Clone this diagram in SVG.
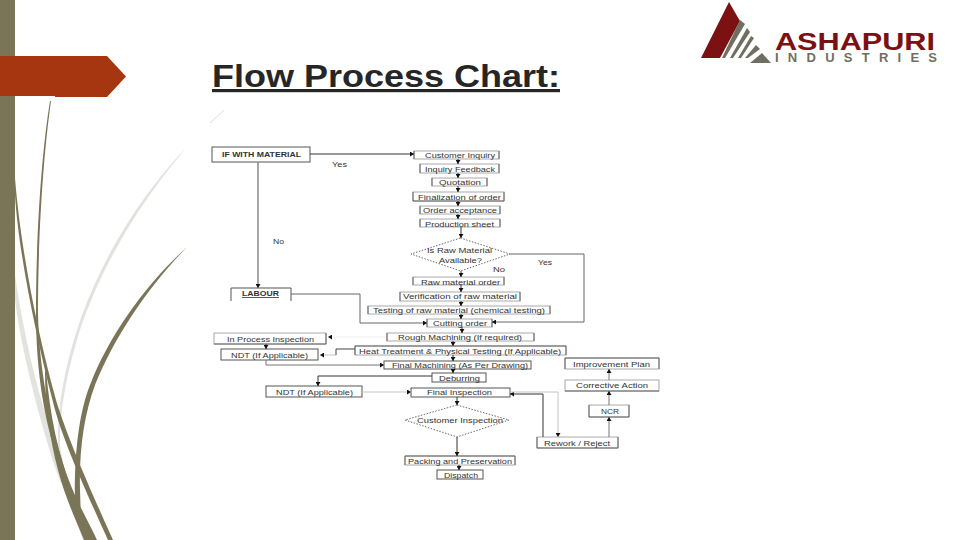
<svg xmlns="http://www.w3.org/2000/svg" width="960" height="540" viewBox="0 0 960 540">
<style>
text{font-family:"Liberation Sans",Arial,sans-serif;fill:#333}
.t{font-size:8px}
.b{fill:#fff;stroke:#555;stroke-width:1}
.s{fill:#fff;stroke:#aaa;stroke-width:1}
.e{fill:none;stroke:#666;stroke-width:1}
.d{fill:#fff;stroke:#444;stroke-width:.8;stroke-dasharray:1.5 1.5}
.c{fill:none;stroke:#333;stroke-width:1;marker-end:url(#a)}
.g{fill:none;stroke:#888;stroke-width:1.5;marker-end:url(#a)}
.l{fill:none;stroke:#c4c4c4;stroke-width:1;marker-end:url(#a)}
.o{fill:#7b7558}
.w{fill:#e2e2de}
</style>
<defs><marker id="a" markerUnits="userSpaceOnUse" markerWidth="5" markerHeight="5" refX="4" refY="2.5" orient="auto"><path d="M0 0L4 2.5L0 5Z" fill="#111"/></marker></defs>
<rect width="960" height="540" fill="#fff"/>
<g id="decor">
<path class="w" d="M187 147C150 190 105 255 80 330C66 375 60 410 60 445C64 475 75 510 86 540L83 540C70 505 60 475 58 445C57 410 64 370 77 330C102 253 147 188 187 147Z"/>
<path class="w" d="M15 275C24 335 38 400 60 455C72 490 82 515 90 540L85 540C75 510 62 490 52 458C34 400 20 340 15 300Z"/>
<path class="o" d="M51 101C44 150 38 230 38 313C39 370 50 420 62 460C72 495 88 520 97 540L92 540C80 515 68 490 58 460C44 420 36 370 36 313C36 230 42 150 50 101Z"/>
<path class="o" d="M15 178C20 240 34 320 56 400C68 440 95 500 113 540L108 540C90 500 62 440 53 402C33 325 18 245 15 195Z"/>
<path class="o" d="M187 247C150 285 115 335 95 385C84 415 79 450 80 490L81 520L75 505C74 460 78 415 90 385C110 333 148 282 187 247Z"/>
<path class="o" d="M46 370C50 415 58 455 72 490C80 515 88 530 96 540L84 540C76 520 66 500 58 470C50 440 45 405 45 372Z"/>
<path d="M210 123L224 110" stroke="#ddd" stroke-width="1" fill="none"/>
<rect width="15" height="540" class="o"/>
<polygon points="0,56 107,56 126,76.5 107,97 55,97 55,96 0,96" fill="#a5360f"/>
</g>
<text id="title" x="212" y="87" font-size="32" font-weight="bold" textLength="348" lengthAdjust="spacingAndGlyphs" text-decoration="underline" style="fill:#262626">Flow Process Chart:</text>
<g id="logo">
<polygon points="729,2 740,21 720,58 701,58" fill="#7b1113"/>
<g fill="#6f6f60">
<polygon points="740,20 745,24 725,58 722,58"/>
<polygon points="747,28 750,32 733,58 730,58"/>
<polygon points="751,36 754,38 741,58 738,58"/>
<polygon points="756,45 760,49 748,58 745,58"/>
<polygon points="762,53 771,63 750,63"/>
</g>
<text x="775" y="50" font-size="23" font-weight="bold" textLength="160" lengthAdjust="spacingAndGlyphs" style="fill:#7b1113">ASHAPURI</text>
<text x="775" y="62" font-size="13" font-weight="bold" textLength="162" lengthAdjust="spacing" style="fill:#6f6f60">INDUSTRIES</text>
</g>
<g id="nodes">
<g id="n-if"><rect class="b" x="212" y="147" width="98" height="15"/><text class="t" font-weight="bold" x="222" y="157" textLength="79" lengthAdjust="spacingAndGlyphs">IF WITH MATERIAL</text></g>
<g id="n-labour"><path d="M231 301V288H291V301" class="b"/><text class="t" font-weight="bold" text-decoration="underline" x="242" y="296" textLength="37" lengthAdjust="spacingAndGlyphs">LABOUR</text></g>
<g id="n-customer"><rect class="s" x="414" y="151" width="85" height="8"/><path class="e" d="M414 151V159M499 151V159"/><text class="t" x="425" y="158" textLength="70" lengthAdjust="spacingAndGlyphs">Customer Inquiry</text></g>
<g id="n-feedback"><rect class="s" x="420" y="164" width="79" height="9"/><path class="e" d="M420 164V173M499 164V173"/><text class="t" x="425" y="172" textLength="70" lengthAdjust="spacingAndGlyphs">Inquiry Feedback</text></g>
<g id="n-quotation"><rect class="s" x="432" y="178" width="55" height="8"/><path class="e" d="M432 178V186M487 178V186"/><text class="t" x="439" y="185" textLength="42" lengthAdjust="spacingAndGlyphs">Quotation</text></g>
<g id="n-final"><rect class="s" x="413" y="192" width="91" height="9"/><path class="e" d="M413 192V201H504V192"/><text class="t" x="418" y="200" textLength="83" lengthAdjust="spacingAndGlyphs">Finalization of order</text></g>
<g id="n-accept"><rect class="s" x="420" y="206" width="80" height="8"/><path class="e" d="M420 206V214M500 206V214"/><text class="t" x="423" y="213" textLength="74" lengthAdjust="spacingAndGlyphs">Order acceptance</text></g>
<g id="n-sheet"><rect class="s" x="420" y="219" width="80" height="8"/><path class="e" d="M420 219V227M500 219V227"/><text class="t" x="425" y="227" textLength="69" lengthAdjust="spacingAndGlyphs">Production sheet</text></g>
<g id="n-raw"><polygon class="d" points="460.5,238 510,254 460.5,271 411,254"/><text class="t" x="427" y="253" textLength="65" lengthAdjust="spacingAndGlyphs">Is Raw Material</text><text class="t" x="439" y="263" textLength="43" lengthAdjust="spacingAndGlyphs">Available?</text></g>
<g id="n-raworder"><rect class="s" x="413" y="277" width="91" height="8"/><path class="e" d="M413 277V285M504 277V285"/><text class="t" x="421" y="285" textLength="79" lengthAdjust="spacingAndGlyphs">Raw material order</text></g>
<g id="n-verify"><rect class="s" x="400" y="292" width="120" height="9"/><path class="e" d="M400 292V301M520 292V301"/><text class="t" x="403" y="299" textLength="114" lengthAdjust="spacingAndGlyphs">Verification of raw material</text></g>
<g id="n-testing"><rect class="s" x="368" y="306" width="182" height="8"/><path class="e" d="M368 306V314M550 306V314"/><text class="t" x="373" y="313" textLength="172" lengthAdjust="spacingAndGlyphs">Testing of raw material (chemical testing)</text></g>
<g id="n-cutting"><rect class="s" x="427" y="319" width="65" height="8"/><path class="e" d="M427 319V327M492 319V327"/><text class="t" x="433" y="326" textLength="54" lengthAdjust="spacingAndGlyphs">Cutting order</text></g>
<g id="n-inprocess"><rect class="s" x="214" y="333" width="112" height="11"/><path class="e" d="M326 333V344H214"/><text class="t" x="227" y="342" textLength="87" lengthAdjust="spacingAndGlyphs">In Process Inspection</text></g>
<g id="n-ndt1"><rect class="b" x="221" y="349" width="97" height="11"/><text class="t" x="231" y="358" textLength="77" lengthAdjust="spacingAndGlyphs">NDT (If Applicable)</text></g>
<g id="n-rough"><rect class="s" x="387" y="333" width="147" height="8"/><path class="e" d="M387 333V341M534 333V341"/><text class="t" x="398" y="340" textLength="124" lengthAdjust="spacingAndGlyphs">Rough Machining (If required)</text></g>
<g id="n-heat"><rect class="s" x="355" y="346" width="211" height="9"/><path class="e" d="M355 355V346H566V355"/><text class="t" x="359" y="354" textLength="202" lengthAdjust="spacingAndGlyphs">Heat Treatment &amp; Physical Testing (If Applicable)</text></g>
<g id="n-machining"><rect class="b" x="384" y="361" width="147" height="8"/><text class="t" x="392" y="368" textLength="136" lengthAdjust="spacingAndGlyphs">Final Machining (As Per Drawing)</text></g>
<g id="n-deburring"><rect class="b" x="432" y="373" width="54" height="9"/><text class="t" x="439" y="381" textLength="41" lengthAdjust="spacingAndGlyphs">Deburring</text></g>
<g id="n-ndt2"><rect class="b" x="266" y="386" width="96" height="11"/><text class="t" x="276" y="395" textLength="77" lengthAdjust="spacingAndGlyphs">NDT (If Applicable)</text></g>
<g id="n-inspection"><rect class="b" x="411" y="388" width="99" height="9"/><text class="t" x="427" y="395" textLength="65" lengthAdjust="spacingAndGlyphs">Final Inspection</text></g>
<g id="n-customerinsp"><polygon class="d" points="457,405 509,420 457,437 405,420"/><text class="t" x="417" y="423" textLength="86" lengthAdjust="spacingAndGlyphs">Customer Inspection</text></g>
<g id="n-packing"><rect class="s" x="405" y="456" width="110" height="9"/><path class="e" d="M405 465V456H515V465"/><text class="t" x="408" y="464" textLength="104" lengthAdjust="spacingAndGlyphs">Packing and Preservation</text></g>
<g id="n-dispatch"><rect class="b" x="437" y="470" width="46" height="9"/><text class="t" x="444" y="478" textLength="34" lengthAdjust="spacingAndGlyphs">Dispatch</text></g>
<g id="n-rework"><rect class="s" x="537" y="437" width="81" height="11"/><path class="e" d="M537 437V448H618V437"/><text class="t" x="544" y="446" textLength="66" lengthAdjust="spacingAndGlyphs">Rework / Reject</text></g>
<g id="n-improve"><rect class="s" x="565" y="358" width="94" height="11"/><path class="e" d="M565 369V358H659V369"/><text class="t" x="573" y="367" textLength="77" lengthAdjust="spacingAndGlyphs">Improvement Plan</text></g>
<g id="n-corrective"><rect class="s" x="565" y="380" width="94" height="11"/><path class="e" d="M565 391H659"/><text class="t" x="576" y="388" textLength="72" lengthAdjust="spacingAndGlyphs">Corrective Action</text></g>
<g id="n-ncr"><rect class="s" x="589" y="405" width="40" height="12"/><path class="e" d="M589 405V417H629V405"/><text class="t" x="601" y="414" textLength="18" lengthAdjust="spacingAndGlyphs">NCR</text></g>
</g>
<g id="connectors">
<path class="c" d="M310 154H414"/>
<path class="g" d="M258 162V288"/>
<path class="c" d="M458 159V164"/>
<path class="c" d="M458 173V178"/>
<path class="c" d="M458 186V192"/>
<path class="c" d="M458 201V206"/>
<path class="c" d="M458 214V219"/>
<path class="c" d="M461 227V238"/>
<path class="c" d="M461 271V277"/>
<path class="c" d="M461 285V292"/>
<path class="c" d="M461 301V306"/>
<path class="c" d="M461 314V319"/>
<path class="c" d="M462 327V333"/>
<path class="c" d="M453 341V346"/>
<path class="c" d="M453 355V361"/>
<path class="c" d="M453 369V373"/>
<path class="c" d="M457 397V405"/>
<path class="c" d="M457 437V456"/>
<path class="c" d="M459 465V470"/>
<path class="c" d="M510 254H584V322H492" style="stroke:#666"/>
<path class="c" d="M291 294H360V323H427" style="stroke:#666"/>
<path class="l" d="M386 337H328" style="stroke:#eee"/>
<path class="c" d="M266 344V349"/>
<path class="l" d="M336 355H320"/>
<path d="M336 355V349H355" fill="none" stroke="#444"/>
<path class="c" d="M266 360V365H384" style="stroke:#777"/>
<path class="c" d="M432 376H318V386"/>
<path class="l" d="M362 392H411"/>
<path class="c" d="M543 437V394H510"/>
<path class="l" d="M510 392H558V437"/>
<path class="c" d="M609 380V369" style="stroke:#777"/>
<path class="c" d="M609 405V391" style="stroke:#777"/>
<path class="c" d="M609 437V417" style="stroke:#777"/>
</g>
<g id="labels">
<text class="t" x="332" y="167" textLength="15" lengthAdjust="spacingAndGlyphs">Yes</text>
<text class="t" x="273" y="244" textLength="11" lengthAdjust="spacingAndGlyphs">No</text>
<text class="t" x="538" y="265" textLength="14" lengthAdjust="spacingAndGlyphs">Yes</text>
<text class="t" x="493" y="272" textLength="12" lengthAdjust="spacingAndGlyphs">No</text>
</g>
</svg>
